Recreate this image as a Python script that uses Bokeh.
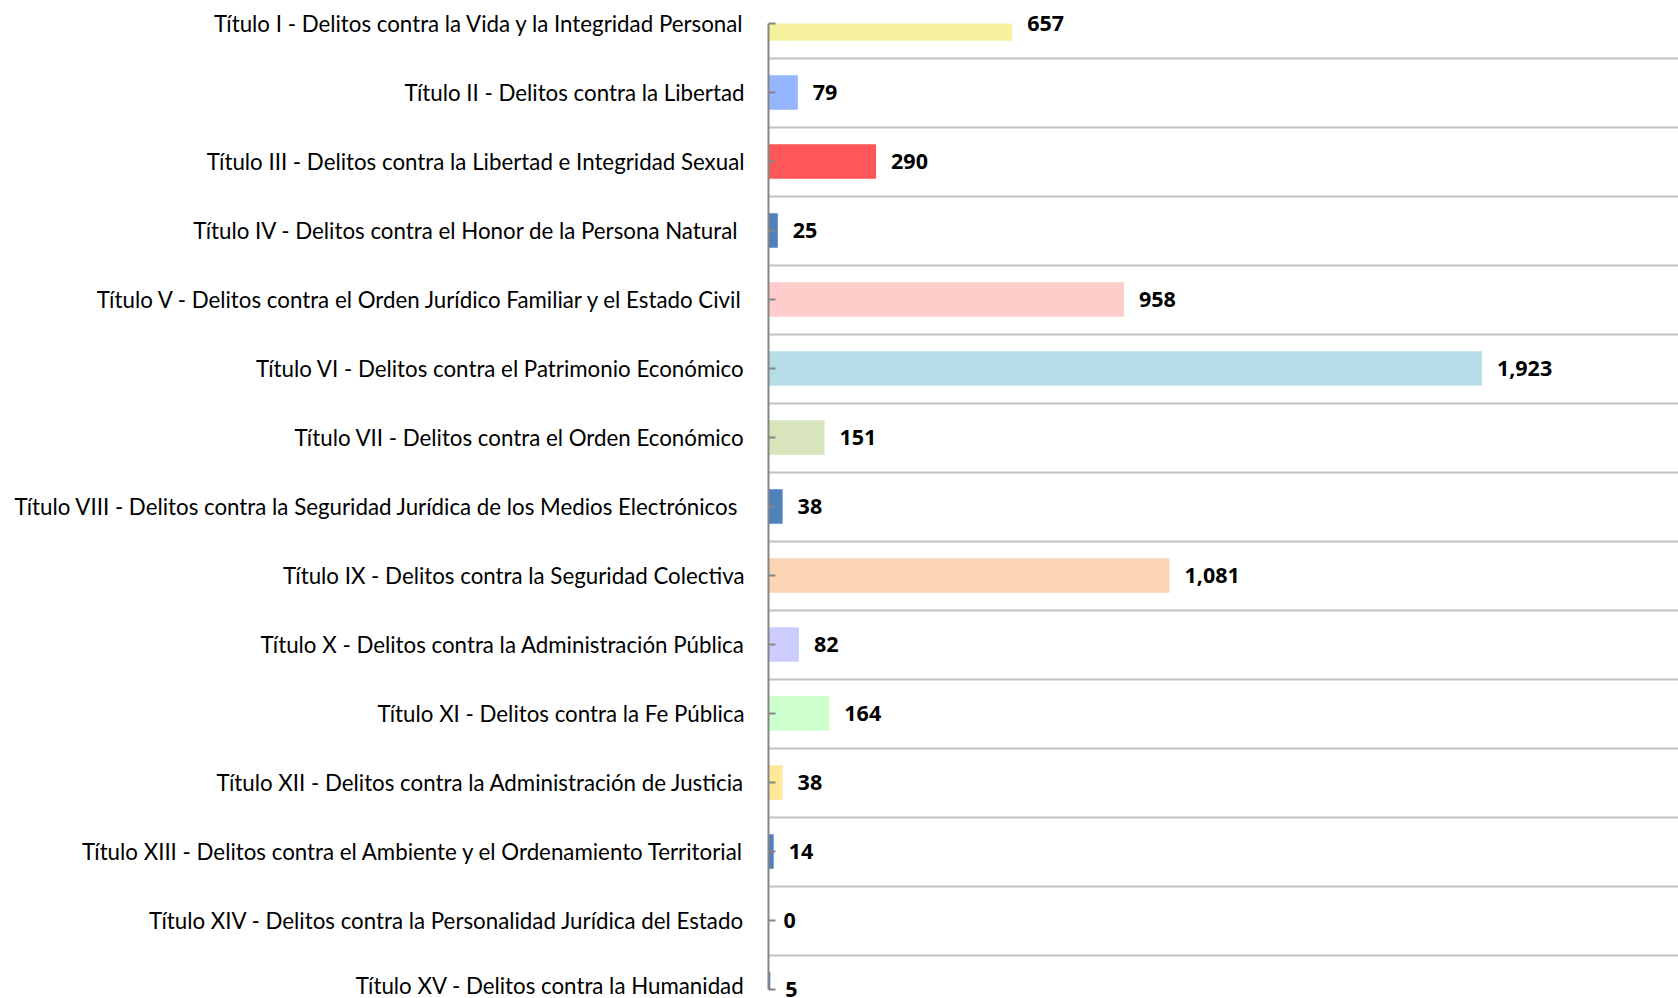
from bokeh.plotting import figure
from bokeh.models import Range1d, FixedTicker, LabelSet, ColumnDataSource
from bokeh.core.properties import value
from bokeh.embed import file_html
from bokeh.resources import INLINE

categories = [
    "Título I - Delitos contra la Vida y la Integridad Personal",
    "Título II - Delitos contra la Libertad",
    "Título III - Delitos contra la Libertad e Integridad Sexual",
    "Título IV - Delitos contra el Honor de la Persona  Natural",
    "Título V - Delitos contra el Orden Jurídico Familiar y el Estado Civil",
    "Título VI - Delitos contra el Patrimonio Económico",
    "Título VII - Delitos contra el Orden Económico",
    "Título VIII - Delitos  contra la Seguridad Jurídica de los Medios Electrónicos",
    "Título IX - Delitos contra la Seguridad Colectiva",
    "Título X - Delitos contra la Administración Pública",
    "Título XI - Delitos contra la Fe Pública",
    "Título XII - Delitos contra la Administración de Justicia",
    "Título XIII - Delitos contra el Ambiente y el Ordenamiento Territorial",
    "Título XIV - Delitos contra la Personalidad Jurídica del Estado",
    "Título XV - Delitos contra la Humanidad",
]
values = [657, 79, 290, 25, 958, 1923, 151, 38, 1081, 82, 164, 38, 14, 0, 5]
colors = ["#F5F19D", "#95B5FF", "#FF5757", "#4F81BD", "#FFCCCC", "#B7DEE8",
          "#D8E4BC", "#4F81BD", "#FCD5B4", "#CCCCFF", "#CCFFCC", "#FFE699",
          "#4F81BD", "#4F81BD", "#4F81BD"]

n = len(categories)
pos = list(range(n))
half = 0.25
# the category axis runs from the first to the last category centre; bars are cut there
bar_top = [max(i - half, 0) for i in pos]
bar_bot = [min(i + half, n - 1) for i in pos]
source = ColumnDataSource(dict(y=pos, v=values, c=colors, t=bar_top, b=bar_bot,
                               lbl=[f"{v:,}" for v in values]))

px_per_cat = 69.0
pad_top = 23 / px_per_cat
pad_bot = 9 / px_per_cat

p = figure(width=1678, height=998, output_backend="svg", toolbar_location=None,
           x_range=Range1d(0, 2453), y_range=Range1d(n - 1 + pad_bot, -pad_top),
           min_border_left=768, min_border_right=0, min_border_top=0,
           min_border_bottom=0)
p.outline_line_color = None
p.background_fill_color = "white"
p.border_fill_color = "white"

p.quad(left=0, right="v", top="t", bottom="b", fill_color="c", line_color=None, source=source)

labels = LabelSet(x="v", y="y", text="lbl", source=source, x_offset=15,
                  text_baseline="middle", text_align="left",
                  text_font=value("Open Sans"), text_font_size=value("21.5px"),
                  text_font_style="bold", text_color="black")
p.add_layout(labels)

p.xaxis.visible = False
p.xgrid.visible = False

p.yaxis.bounds = (0, n - 1)
p.yaxis.ticker = FixedTicker(ticks=pos)
p.yaxis.major_label_overrides = {i: categories[i] for i in pos}
p.yaxis.major_label_text_font = "Lato"
p.yaxis.major_label_text_font_size = "22.3px"
p.yaxis.major_label_text_color = "black"
p.yaxis.major_label_standoff = 24
p.yaxis.axis_line_color = "#868686"
p.yaxis.axis_line_width = 2
p.yaxis.major_tick_in = 7
p.yaxis.major_tick_out = 0
p.yaxis.major_tick_line_color = "#868686"
p.yaxis.major_tick_line_width = 2
p.yaxis.minor_tick_line_color = None

p.ygrid.ticker = FixedTicker(ticks=[i + 0.5 for i in range(n - 1)])
p.ygrid.grid_line_color = "#C0C0C0"
p.ygrid.grid_line_width = 2

open("out.html", "w").write(file_html(p, INLINE))
